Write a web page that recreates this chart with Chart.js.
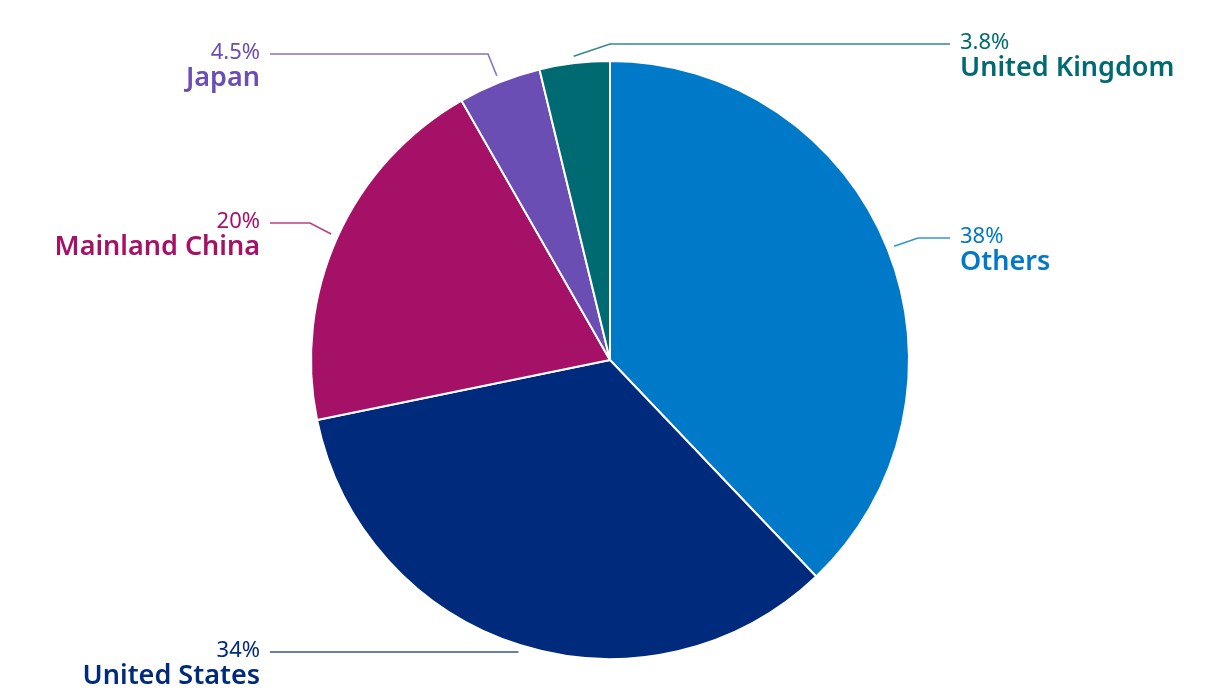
<!DOCTYPE html>
<html><head><meta charset="utf-8">
<script src="https://cdn.jsdelivr.net/npm/chart.js@4"></script>
<style>html,body{margin:0;padding:0;background:#fff;}#wrap{width:1220px;height:700px;}</style>
</head><body><div id="wrap"><canvas id="c" width="1220" height="700"></canvas></div>
<script>
const categories = ["Others", "United States", "Mainland China", "Japan", "United Kingdom"];
const values = [38, 34, 20, 4.5, 3.8];
const valueLabels = ["38%", "34%", "20%", "4.5%", "3.8%"];
const colors = ["#0079C8", "#002A7B", "#A51166", "#6A4EB3", "#006A73"];

// label layout: side, y of horizontal leader line, elbow x
const labelLayout = [
  {side: "right", lineY: 238, elbowX: 918},
  {side: "left", lineY: 652, elbowX: 460},
  {side: "left", lineY: 223, elbowX: 310},
  {side: "left", lineY: 54, elbowX: 488},
  {side: "right", lineY: 44, elbowX: 610}
];

const leaderPlugin = {
  id: 'leaders',
  afterDatasetsDraw(chart) {
    const ctx = chart.ctx;
    const meta = chart.getDatasetMeta(0);
    meta.data.forEach((arc, i) => {
      const p = arc.getProps(['x','y','startAngle','endAngle','outerRadius'], true);
      const mid = (p.startAngle + p.endAngle) / 2;
      const r = p.outerRadius + 7;
      const sx = p.x + Math.cos(mid) * r;
      const sy = p.y + Math.sin(mid) * r;
      const L = labelLayout[i];
      const endX = L.side === 'right' ? 950 : 270;
      ctx.save();
      ctx.strokeStyle = colors[i];
      ctx.globalAlpha = 0.8;
      ctx.lineWidth = 1.6;
      ctx.beginPath();
      ctx.moveTo(sx, sy);
      ctx.lineTo(L.elbowX, L.lineY);
      ctx.lineTo(endX, L.lineY);
      ctx.stroke();
      ctx.globalAlpha = 1;
      ctx.fillStyle = colors[i];
      const tx = L.side === 'right' ? 960 : 260;
      ctx.textAlign = L.side === 'right' ? 'left' : 'right';
      ctx.textBaseline = 'middle';
      ctx.font = '400 22px "Noto Sans"';
      ctx.fillText(valueLabels[i], tx, L.lineY - 1);
      ctx.font = '600 27px "Noto Sans"';
      ctx.fillText(categories[i], tx, L.lineY + 24);
      ctx.restore();
    });
  }
};

new Chart(document.getElementById('c'), {
  type: 'pie',
  data: {
    labels: categories,
    datasets: [{
      data: values,
      backgroundColor: colors,
      borderColor: '#ffffff',
      borderWidth: 2
    }]
  },
  options: {
    responsive: false,
    animation: false,
    layout: {padding: {top: 60, bottom: 40, left: 0, right: 0}},
    plugins: {legend: {display: false}, tooltip: {enabled: false}},
  },
  plugins: [leaderPlugin]
});
</script>
</body></html>
